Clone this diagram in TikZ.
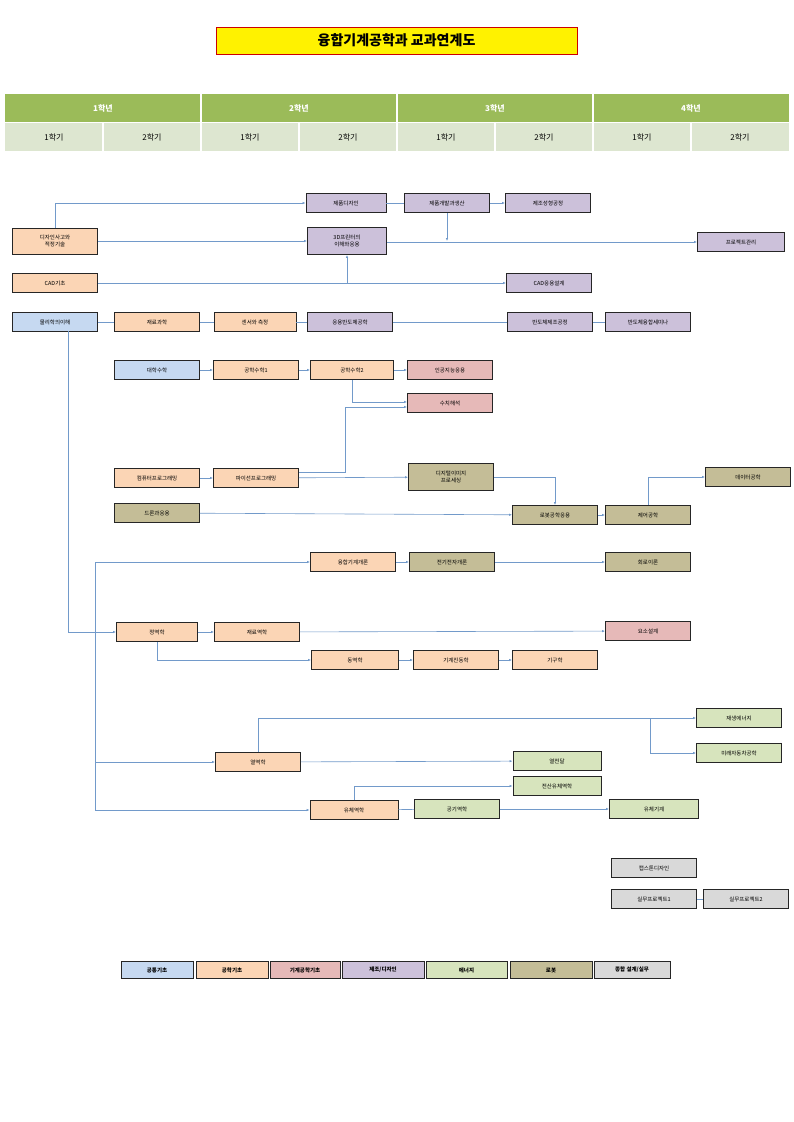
\documentclass[tikz,border=0pt]{standalone}
\usepackage{fontspec}
\setmainfont{Noto Sans CJK KR}
\usetikzlibrary{arrows.meta}
\definecolor{cb}{HTML}{C6D9F1}
\definecolor{co}{HTML}{FBD5B5}
\definecolor{cp}{HTML}{E6B9B8}
\definecolor{cv}{HTML}{CCC1DA}
\definecolor{cg}{HTML}{D7E4BD}
\definecolor{cl}{HTML}{C4BD97}
\definecolor{cy}{HTML}{D9D9D9}
\definecolor{ln}{HTML}{4F81BD}
\definecolor{hd}{HTML}{9BBB59}
\definecolor{hl}{HTML}{DDE6D0}
\tikzset{
 c/.style={draw=black!85,line width=0.9pt,minimum width=85pt,minimum height=19pt,inner sep=1pt,font=\fontsize{5.5}{6.5}\selectfont,align=center},
 B/.style={c,fill=cb}, O/.style={c,fill=co}, P/.style={c,fill=cp}, V/.style={c,fill=cv},
 G/.style={c,fill=cg}, L/.style={c,fill=cl}, Y/.style={c,fill=cy},
 a/.style={draw=ln!80,line width=0.6pt,-{Latex[length=3pt,width=2.5pt]}},
 l/.style={draw=ln!80,line width=0.6pt},
 lg/.style={c,minimum width=72pt,minimum height=17pt,font=\fontsize{5.5}{6.5}\selectfont\bfseries},
 h1/.style={fill=hd,minimum width=196pt,minimum height=28pt,text=white,font=\fontsize{8}{9}\selectfont\bfseries},
 h2/.style={fill=hl,minimum width=98pt,minimum height=28pt,font=\fontsize{8}{9}\selectfont}
}
\begin{document}
\begin{tikzpicture}[x=1pt,y=-1pt]
\useasboundingbox (0,0) rectangle (793,1122);
\node[draw=red!80!black,line width=1pt,fill=yellow,minimum width=361pt,minimum height=27pt,font=\fontsize{14}{16}\selectfont\bfseries] (title) at (396.5,40.5) {융합기계공학과 교과연계도};
\foreach \i/\t in {0/1,1/2,2/3,3/4}{
 \node[h1] (y\t) at (103+\i*196,108) {\t 학년};
 \node[h2] (s\t a) at (54+\i*196,137) {1학기};
 \node[h2] (s\t b) at (152+\i*196,137) {2학기};
}
\foreach \i in {1,...,3}{\draw[white,line width=1.5pt] (5+\i*196,94)--(5+\i*196,151);}
\foreach \i in {0,...,3}{\draw[white,line width=1.5pt] (103+\i*196,123)--(103+\i*196,151);}
\draw[white,line width=1.5pt] (5,122.5)--(789,122.5);
% nodes
\node[O,minimum height=26pt] (dz) at (55,241) {디자인사고와\\적정기술};
\node[O] (cad) at (55,283) {CAD기초};
\node[B] (phy) at (55,322) {물리학의이해};
\node[V,minimum width=80pt] (pd) at (346,203) {제품디자인};
\node[V,minimum width=79pt,minimum height=27pt] (p3) at (347,241) {3D프린터의\\이해와응용};
\node[V] (pdev) at (447,203) {제품개발과생산};
\node[V] (mf) at (548,203) {제조성형공정};
\node[V,minimum width=87pt] (pm) at (741,242) {프로젝트관리};
\node[V] (cada) at (549,283) {CAD응용설계};
\node[O] (mat) at (157,322) {재료과학};
\node[O,minimum width=82pt] (sen) at (255,322) {센서와 측정};
\node[V] (sem) at (350,322) {응용반도체공학};
\node[V] (semf) at (550,322) {반도체제조공정};
\node[V] (semi) at (648,322) {반도체융합세미나};
\node[B] (um) at (157,370) {대학수학};
\node[O] (em1) at (256,370) {공학수학1};
\node[O,minimum width=83pt] (em2) at (352,370) {공학수학2};
\node[P] (ai) at (450,370) {인공지능응용};
\node[P] (na) at (450,403) {수치해석};
\node[O] (cp) at (157,478) {컴퓨터프로그래밍};
\node[O] (py) at (256,478) {파이선프로그래밍};
\node[L,minimum height=27pt] (dip) at (451,477) {디지털이미지\\프로세싱};
\node[L] (dr) at (157,513) {드론과응용};
\node[L] (rb) at (555,515) {로봇공학응용};
\node[L] (ctl) at (648,515) {제어공학};
\node[L] (de) at (748,477) {데이터공학};
\node[O] (ime) at (353,562) {융합기계개론};
\node[L] (ee) at (452,562) {전기전자개론};
\node[L] (ci) at (648,562) {회로이론};
\node[O,minimum width=81pt] (st) at (157,632) {정역학};
\node[O] (sm) at (257,632) {재료역학};
\node[P] (ed) at (648,631) {요소설계};
\node[O,minimum width=87pt] (dy) at (355,660) {동역학};
\node[O] (vib) at (456,660) {기계진동학};
\node[O] (kin) at (555,660) {기구학};
\node[O] (th) at (258,762) {열역학};
\node[G,minimum width=88pt] (ht) at (557,761) {열전달};
\node[G,minimum width=88pt] (cfd) at (557,786) {전산유체역학};
\node[O,minimum width=88pt] (fm) at (354,810) {유체역학};
\node[G] (ad) at (457,809) {공기역학};
\node[G,minimum width=89pt] (fmc) at (654,809) {유체기계};
\node[G] (re) at (739,718) {재생에너지};
\node[G] (fc) at (739,753) {미래자동차공학};
\node[Y] (cap) at (654,868) {캡스톤디자인};
\node[Y] (pj1) at (654,899) {실무프로젝트1};
\node[Y] (pj2) at (746,899) {실무프로젝트2};
% legend
\node[lg,fill=cb] (g1) at (157,970) {공통기초};
\node[lg,fill=co] (g2) at (232,970) {공학기초};
\node[lg,fill=cp,minimum width=70pt] (g3) at (305,970) {기계공학기초};
\node[lg,fill=cv,minimum width=82pt] (g4) at (383,970) {제조/디자인};
\node[lg,fill=cg,minimum width=81pt] (g5) at (466.5,970) {에너지};
\node[lg,fill=cl,minimum width=82pt] (g6) at (551,970) {로봇};
\node[lg,fill=cy,minimum width=76pt] (g7) at (632,970) {종합 설계/실무};
% connectors
\draw[a] (dz.north) -- (dz.north|-pd) -- (pd);
\draw[a] (dz) -- (p3);
\draw[l] (pd) -- (pdev);
\draw[a] (pdev) -- (mf);
\draw[a] (p3.east|-pm) -- (pm);
\coordinate (j1) at (447,241);
\draw[a] (pdev) -- (j1);
\draw[a] (cad) -- (cada);
\draw[a] (p3.south|-cad) -- (p3.south);
\draw[l] (phy) -- (mat) -- (sen) -- (sem) -- (semf) -- (semi);
\draw[a] (68,331) -- (68,632) -- (st);
\draw[a] (um) -- (em1);
\draw[a] (em1) -- (em2);
\draw[a] (em2) -- (ai);
\draw[a] (em2.south) -- ++(0,22) coordinate (k1) -- (k1-|na.west);
\draw[a] (py.east|-0,472) -- (345,472) -- (345,407) -- (na.west|-0,407);
\draw[a] (cp) -- (py);
\draw[a] (py) -- (dip);
\draw[a] (dip.east) -- (dip.east-|rb) -- (rb.north);
\draw[a] (dr) -- (rb);
\draw[a] (rb) -- (ctl);
\draw[a] (ctl.north) -- (ctl.north|-de) -- (de);
\draw[l] (95,562) -- (95,810);
\draw[a] (95,562) -- (ime);
\draw[a] (95,762) -- (th);
\draw[a] (95,810) -- (fm);
\draw[a] (ime) -- (ee);
\draw[a] (ee) -- (ci);
\draw[a] (st) -- (sm);
\draw[a] (sm) -- (ed);
\draw[a] (st.south) -- (st.south|-dy) -- (dy);
\draw[a] (dy) -- (vib);
\draw[a] (vib) -- (kin);
\draw[a] (th.north) -- (th.north|-re) -- (re);
\draw[a] (650,718) -- (650,753) -- (fc);
\draw[a] (th) -- (ht);
\draw[a] (fm.north) -- (fm.north|-cfd) -- (cfd);
\draw[l] (fm) -- (ad);
\draw[a] (ad) -- (fmc);
\draw[l] (pj1) -- (pj2);
\end{tikzpicture}
\end{document}
